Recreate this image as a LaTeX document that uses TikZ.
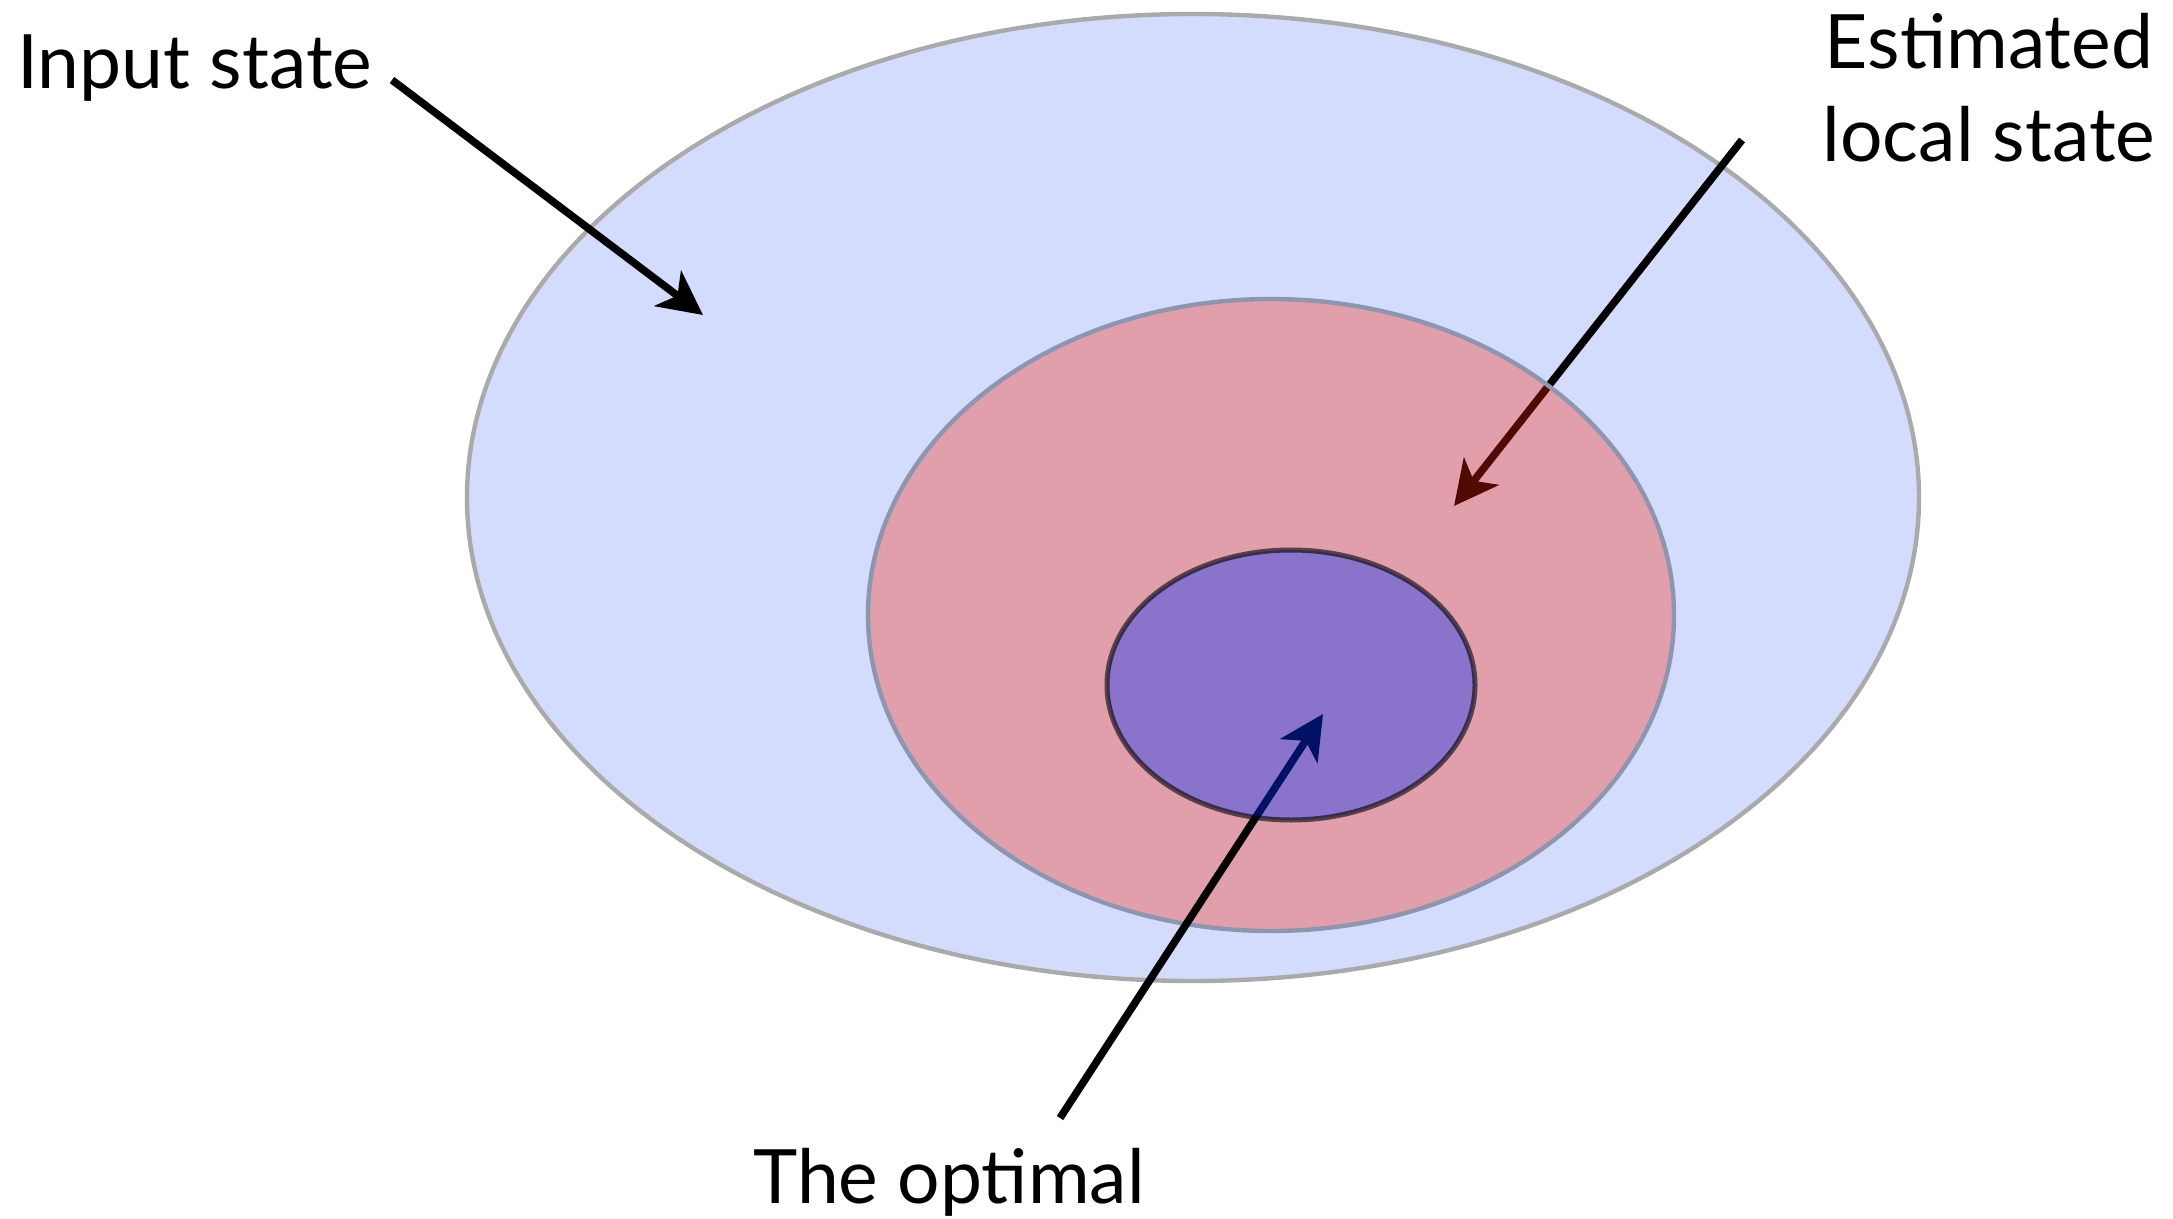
\documentclass[tikz,border=0pt]{standalone}
\usepackage{fontspec}
\setmainfont{Lato}
\usetikzlibrary{arrows.meta}
\definecolor{outerfill}{RGB}{212,220,253}
\definecolor{outerline}{RGB}{170,170,170}
\definecolor{midfill}{RGB}{255,31,0}
\definecolor{midline}{RGB}{140,150,175}
\definecolor{innerfill}{RGB}{0,47,255}
\tikzset{
  label/.style={inner sep=0pt, font=\fontsize{37.5}{46.5}\selectfont},
  pointer/.style={line width=3.8pt, draw=black, -{Stealth[length=22pt,width=22pt,inset=6pt]}},
}
\begin{document}
\begin{tikzpicture}[x=0.5pt,y=-0.5pt]
\useasboundingbox (0,0) rectangle (2173,1219);
% outer ellipse
\draw[line width=2.2pt, draw=outerline, fill=outerfill] (1193,497.5) ellipse [x radius=726, y radius=483.5];
% labels
\node[label, anchor=base west] (input) at (17,89) {Input state};
\node[label, anchor=base, align=center] (est) at (1989,162) {Estimated\\local state};
\node[label, anchor=base] (opt) at (949,1203) {The optimal};
% arrow end points
\coordinate (inS) at (392,80);
\coordinate (inT) at (703,315);
\coordinate (estS) at (1742,140);
\coordinate (estT) at (1454,506);
\coordinate (optS) at (1060,1118);
\coordinate (optT) at (1323,714);
\draw[pointer] (inS) -- (inT);
\draw[pointer] (estS) -- (estT);
% middle ellipse
\draw[line width=2.2pt, draw=midline, fill=midfill, fill opacity=0.32] (1271,615) ellipse [x radius=403, y radius=316];
\draw[pointer] (optS) -- (optT);
% inner ellipse
\draw[line width=2.5pt, draw=black, draw opacity=0.6, fill=innerfill, fill opacity=0.39] (1291,685) ellipse [x radius=184, y radius=135];
\end{tikzpicture}
\end{document}
